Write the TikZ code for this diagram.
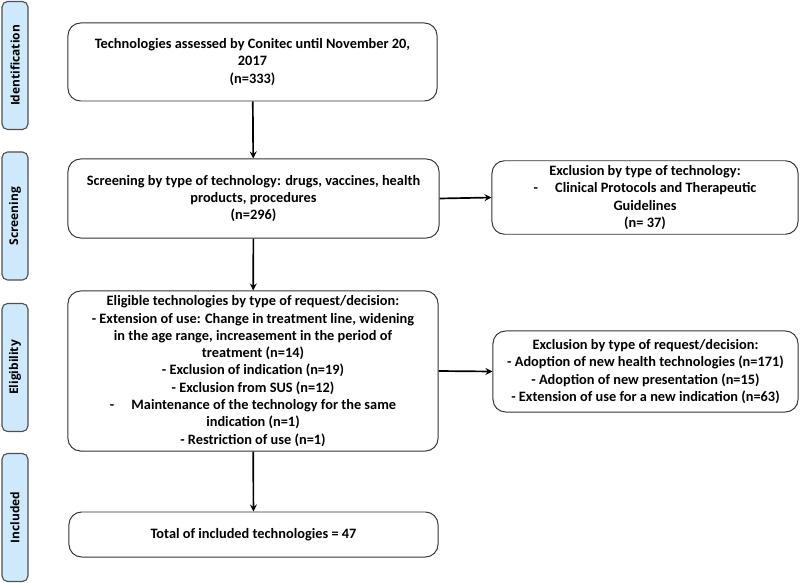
\documentclass[tikz,border=0pt]{standalone}
\usepackage{fontspec}
\setmainfont{Carlito}
\newfontfamily\sidefont{Open Sans}
\usepackage{xcolor}

\definecolor{stagefill}{RGB}{206,233,251}
\definecolor{stageline}{RGB}{80,80,80}

\tikzset{
    stage/.style={draw=stageline, fill=stagefill, rounded corners=4pt, line width=0.8pt,
        rotate=90, minimum height=0.65cm, minimum width=3.2cm,
        font=\sidefont\bfseries\fontsize{8.5}{10}\selectfont},
    box/.style={draw=black!80, rounded corners=9pt, line width=0.7pt, align=center,
        font=\bfseries\fontsize{10.2}{12.3}\selectfont},
    link/.style={->, >=stealth, line width=1.2pt}
}

\begin{document}
\begin{tikzpicture}[x=0.025cm, y=-0.025cm]
    \useasboundingbox (0,0) rectangle (800,583);

    % Stages
    \node[stage] (ident) at (15,65.5) {Identification};
    \node[stage] (screen) at (15,216) {Screening};
    \node[stage] (elig) at (15,367.5) {Eligibility};
    \node[stage] (incl) at (15,517.5) {Included};

    % Identification
    \node[box, minimum width=9.225cm, minimum height=1.95cm] (assessed) at (252.5,62)
        {Technologies assessed by Conitec until November 20,\\2017\\(n=333)};

    % Screening
    \node[box, minimum width=9.275cm, minimum height=1.975cm] (screening) at (253.5,198.5)
        {Screening by type of technology: drugs, vaccines, health\\products, procedures\\(n=296)};
    \node[box, minimum width=7.65cm, minimum height=1.775cm] (exclone) at (645,197.5)
        {Exclusion by type of technology:\\-\hspace{1.2em}Clinical Protocols and Therapeutic\\Guidelines\\(n= 37)};

    % Eligibility
    \node[box, minimum width=9.25cm, minimum height=4cm] (eligible) at (253,371)
        {Eligible technologies by type of request/decision:\\
         - Extension of use: Change in treatment line, widening\\
         in the age range, increasement in the period of\\
         treatment (n=14)\\
         - Exclusion of indication (n=19)\\
         - Exclusion from SUS (n=12)\\
         -\hspace{1.2em}Maintenance of the technology for the same\\
         indication (n=1)\\
         - Restriction of use (n=1)};
    \node[box, minimum width=7.625cm, minimum height=2.025cm] (excltwo) at (645.5,371.5)
        {Exclusion by type of request/decision:\\
         - Adoption of new health technologies (n=171)\\
         - Adoption of new presentation (n=15)\\
         - Extension of use for a new indication (n=63)};

    % Included
    \node[box, minimum width=9.225cm, minimum height=1.125cm] (total) at (253.5,534.5)
        {Total of included technologies = 47};

    % Arrows
    \draw[link] (assessed) -- (screening);
    \draw[link] (screening) -- (eligible);
    \draw[link] (eligible) -- (total);
    \draw[link] (screening.east) -- (exclone.west);
    \draw[link] (eligible.east) -- (excltwo.west);
\end{tikzpicture}
\end{document}
